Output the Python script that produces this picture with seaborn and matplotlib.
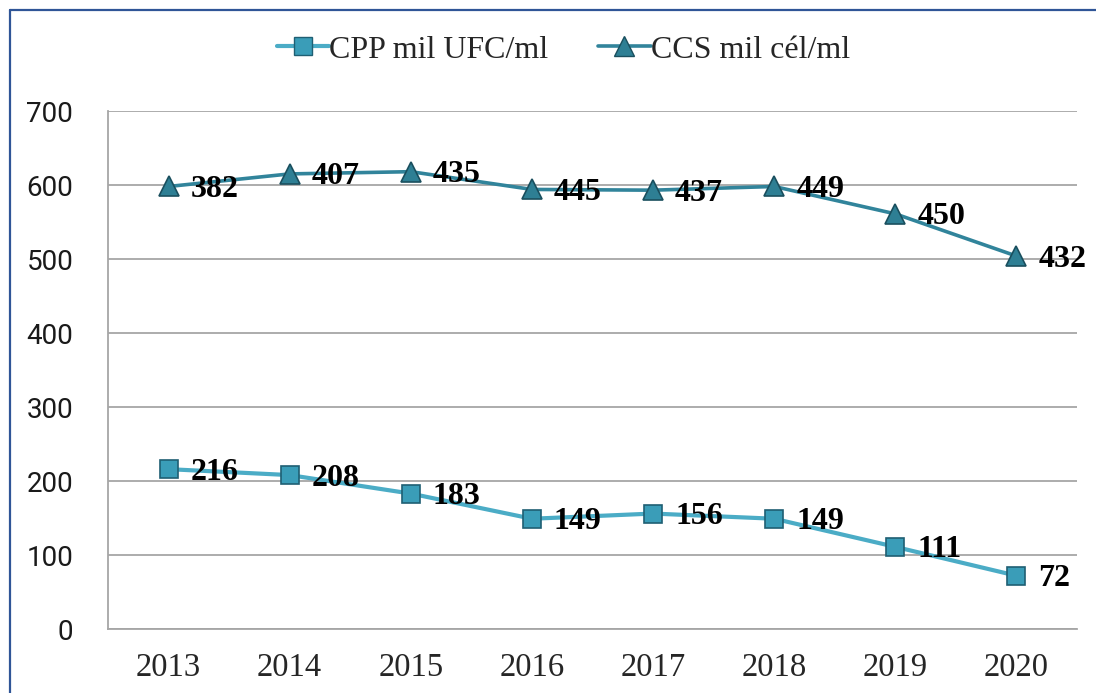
import matplotlib
matplotlib.use("Agg")
import matplotlib.pyplot as plt
import seaborn as sns
import pandas as pd
import numpy as np
from matplotlib.lines import Line2D

years = ['2013', '2014', '2015', '2016', '2017', '2018', '2019', '2020']
cpp = [216, 208, 183, 149, 156, 149, 111, 72]
ccs = [382, 407, 435, 445, 437, 449, 450, 432]

CPP_COLOR = '#4BACC6'
CCS_COLOR = '#31849B'
GRID = '#A6A6A6'

# stacked line chart: CCS sits on top of CPP
pos = np.arange(len(years))
df = pd.DataFrame({
    'pos': np.concatenate([pos, pos]),
    'value': np.concatenate([np.array(cpp), np.array(cpp) + np.array(ccs)]),
    'label': cpp + ccs,
    'serie': ['CPP mil UFC/ml'] * len(years) + ['CCS mil cél/ml'] * len(years),
})

sns.set_style('white')
fig = plt.figure(figsize=(10.96, 6.93), dpi=100)
ax = fig.add_axes([108 / 1096, 64 / 693, (1077 - 108) / 1096, (629 - 111) / 693])

d1 = df[df['serie'] == 'CPP mil UFC/ml']
d2 = df[df['serie'] == 'CCS mil cél/ml']
sns.lineplot(data=d1, x='pos', y='value', ax=ax, color=CPP_COLOR, lw=3.0,
             marker='s', markersize=13, markerfacecolor='#3A9DB8',
             markeredgecolor='#1F5F73', markeredgewidth=1.2, legend=False)
sns.lineplot(data=d2, x='pos', y='value', ax=ax, color=CCS_COLOR, lw=2.6,
             marker='^', markersize=15, markerfacecolor='#2E7F94',
             markeredgecolor='#1A4F5E', markeredgewidth=1.2, legend=False)

for _, r in df.iterrows():
    ax.annotate(str(r['label']), (r['pos'], r['value']), xytext=(22, -3),
                textcoords='offset pixels', ha='left', va='center',
                fontsize=23, fontweight='bold', family='Liberation Serif',
                color='black')

ax.set_xlim(-0.5, len(years) - 0.5)
ax.set_ylim(0, 700)
ax.set_yticks(range(0, 701, 100))
ax.set_yticklabels([str(v) for v in range(0, 701, 100)], family='Roboto',
                   fontsize=20, color='#1a1a1a')
ax.set_xticks(np.arange(-0.5, len(years), 1.0))
ax.set_xticklabels([])
ax.set_xticks(pos, minor=True)
ax.set_xticklabels(years, minor=True, family='Liberation Serif', fontsize=23.5)
ax.tick_params(axis='x', which='major', length=8, width=1.3, color=GRID, direction='out')
ax.tick_params(axis='x', which='minor', length=0, pad=17)
ax.tick_params(axis='y', length=10, width=1.3, color=GRID, direction='out', pad=15)
ax.set_xlabel('')
ax.set_ylabel('')

ax.grid(axis='y', color=GRID, lw=1.3)
ax.set_axisbelow(True)
for s in ['top', 'right']:
    ax.spines[s].set_visible(False)
for s in ['left', 'bottom']:
    ax.spines[s].set_color(GRID)
    ax.spines[s].set_linewidth(1.3)

handles = [
    Line2D([], [], color=CPP_COLOR, lw=3.0, marker='s', markersize=13,
           markerfacecolor='#3A9DB8', markeredgecolor='#1F5F73'),
    Line2D([], [], color=CCS_COLOR, lw=2.6, marker='^', markersize=15,
           markerfacecolor='#2E7F94', markeredgecolor='#1A4F5E'),
]
fig.legend(handles, ['CPP mil UFC/ml', 'CCS mil cél/ml'], loc='center',
           bbox_to_anchor=(0.514, 1 - 50 / 693), ncol=2, frameon=False,
           prop={'family': 'Liberation Serif', 'size': 23},
           handlelength=1.65, handletextpad=0.0, columnspacing=1.55)

# outer chart border (only top and left visible)
fig.add_artist(Line2D([10 / 1096, 1.0], [1 - 10 / 693, 1 - 10 / 693],
                      transform=fig.transFigure, color='#2F5597', lw=1.6))
fig.add_artist(Line2D([10 / 1096, 10 / 1096], [0.0, 1 - 10 / 693],
                      transform=fig.transFigure, color='#2F5597', lw=1.6))

fig.savefig('out.png', dpi=100)
